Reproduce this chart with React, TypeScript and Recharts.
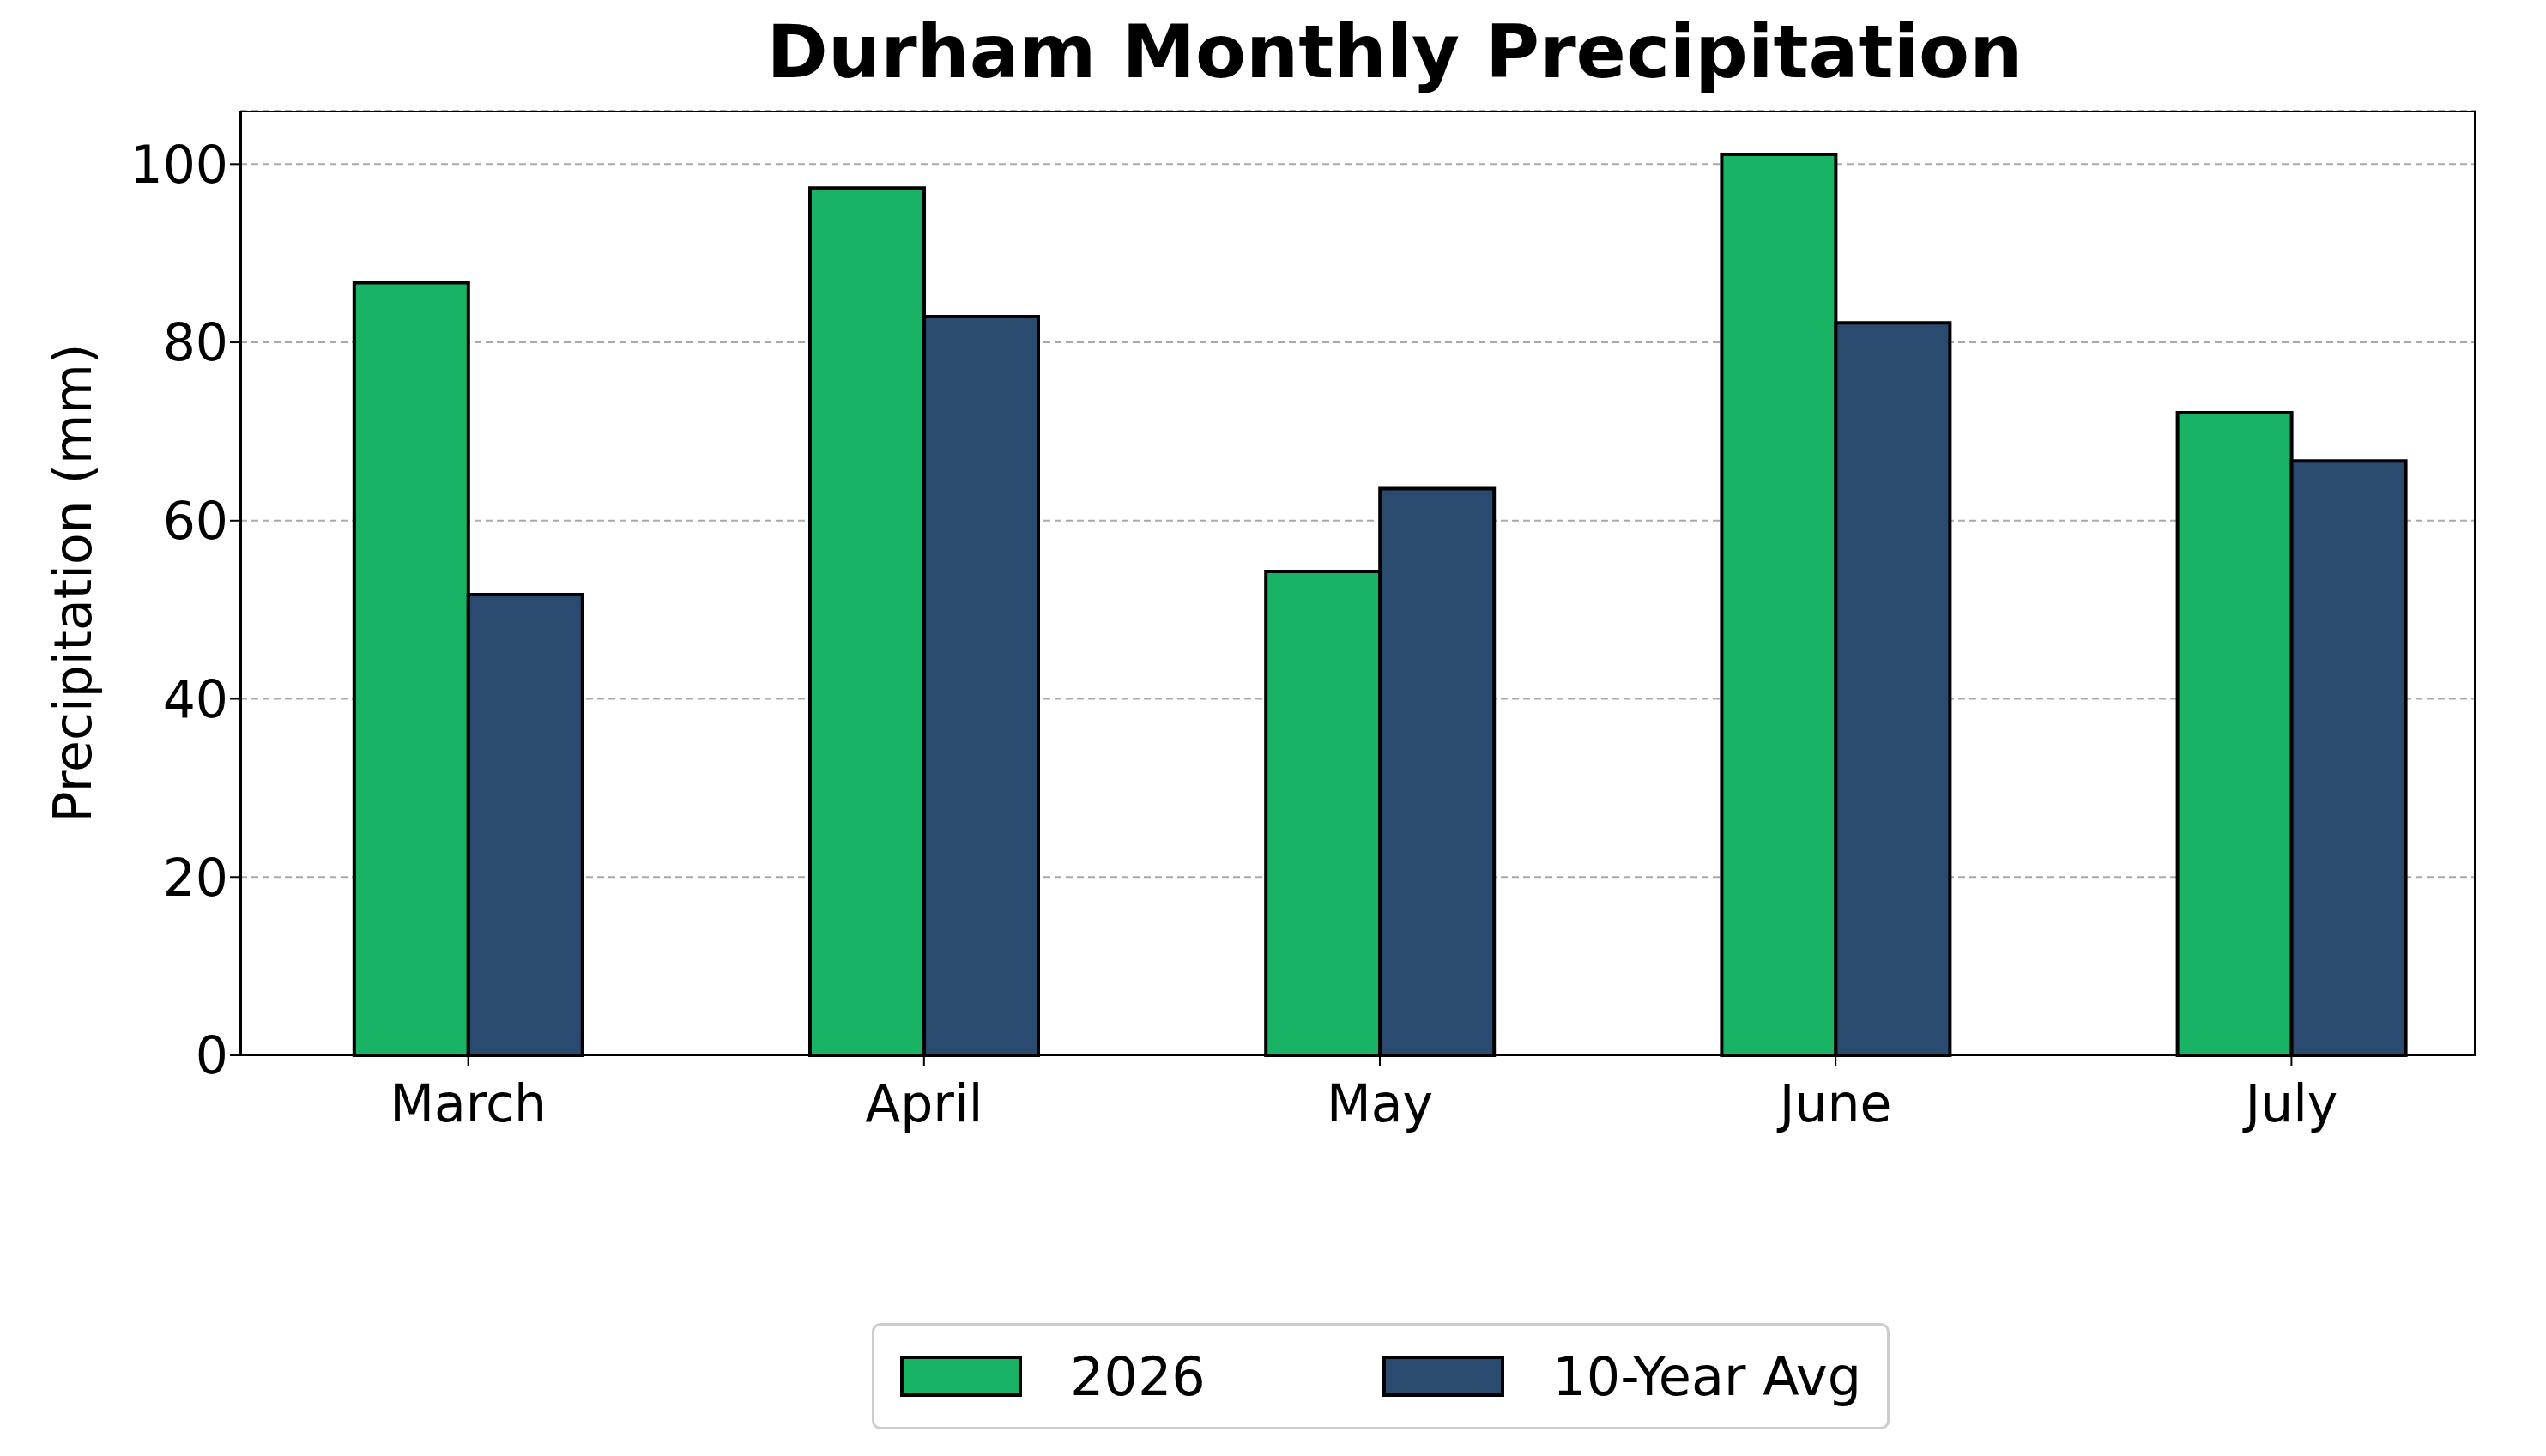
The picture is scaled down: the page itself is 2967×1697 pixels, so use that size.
import { BarChart, Bar, XAxis, YAxis, CartesianGrid } from 'recharts';

const MONTHS = ['March', 'April', 'May', 'June', 'July'];
const YEAR_2026 = [86.7, 97.3, 54.3, 101.1, 72.1];
const TEN_YEAR_AVG = [51.7, 82.9, 63.6, 82.2, 66.7];
const Y_TICKS = [0, 20, 40, 60, 80, 100];

const GREEN = '#19b366';
const NAVY = '#2a4a6f';

const data = MONTHS.map((m, i) => ({ month: m, y2026: YEAR_2026[i], avg: TEN_YEAR_AVG[i] }));

const FONT = 'DejaVu Sans, sans-serif';

function LegendBox() {
  const items = [
    { label: '2026', color: GREEN },
    { label: '10-Year Avg', color: NAVY },
  ];
  return (
    <div style={{
      position: 'absolute', left: 1016, top: 1542, width: 1186, height: 124, boxSizing: 'border-box',
      display: 'flex', alignItems: 'center', justifyContent: 'space-between', border: '3px solid #ccc', borderRadius: 10,
      padding: '0 30px', background: '#fff', fontFamily: FONT, fontSize: 62,
    }}>
      {items.map(it => (
        <div key={it.label} style={{ display: 'flex', alignItems: 'center', gap: 56 }}>
          <div style={{ width: 142, height: 48, background: it.color, border: '4px solid #000', boxSizing: 'border-box' }} />
          <span>{it.label}</span>
        </div>
      ))}
    </div>
  );
}

export default function App() {
  return (
    <div style={{ position: 'absolute', top: 0, left: 0, width: 2967, height: 1697, background: '#fff' }}>
      <div style={{ position: 'absolute', top: 10, left: 0, width: 3250, textAlign: 'center', fontFamily: FONT, fontWeight: 'bold', fontSize: 86 }}>
        Durham Monthly Precipitation
      </div>
      <BarChart width={2967} height={1697} data={data} barCategoryGap="25%" barGap={0}
        margin={{ top: 129, left: 120, right: 82, bottom: 347 }}>
        <CartesianGrid vertical={false} stroke="#aaa" strokeDasharray="8 5" strokeWidth={2} />
        <XAxis dataKey="month" height={120} padding={{ left: 0, right: -51 }}
          tick={{ fill: '#000', fontSize: 60, fontFamily: FONT, dy: 20 }}
          tickSize={12} tickLine={{ stroke: '#000', strokeWidth: 2 }} axisLine={{ stroke: '#000', strokeWidth: 2 }} />
        <YAxis width={160} domain={[0, 106]} ticks={Y_TICKS} interval={0}
          tick={{ fill: '#000', fontSize: 60, fontFamily: FONT }}
          tickSize={12} tickLine={{ stroke: '#000', strokeWidth: 2 }} axisLine={{ stroke: '#000', strokeWidth: 2 }}
          label={{ value: 'Precipitation (mm)', angle: -90, position: 'insideLeft', dx: -40, dy: 0,
            style: { textAnchor: 'middle', fontSize: 60, fontFamily: FONT, fill: '#000' } }} />
        <Bar dataKey="y2026" name="2026" fill={GREEN} stroke="#000" strokeWidth={4} isAnimationActive={false} />
        <Bar dataKey="avg" name="10-Year Avg" fill={NAVY} stroke="#000" strokeWidth={4} isAnimationActive={false} />
      </BarChart>
      <div style={{ position: 'absolute', left: 280, top: 129, width: 2605, height: 1101, border: '2px solid #000', boxSizing: 'border-box', pointerEvents: 'none' }} />
      <LegendBox />
    </div>
  );
}
